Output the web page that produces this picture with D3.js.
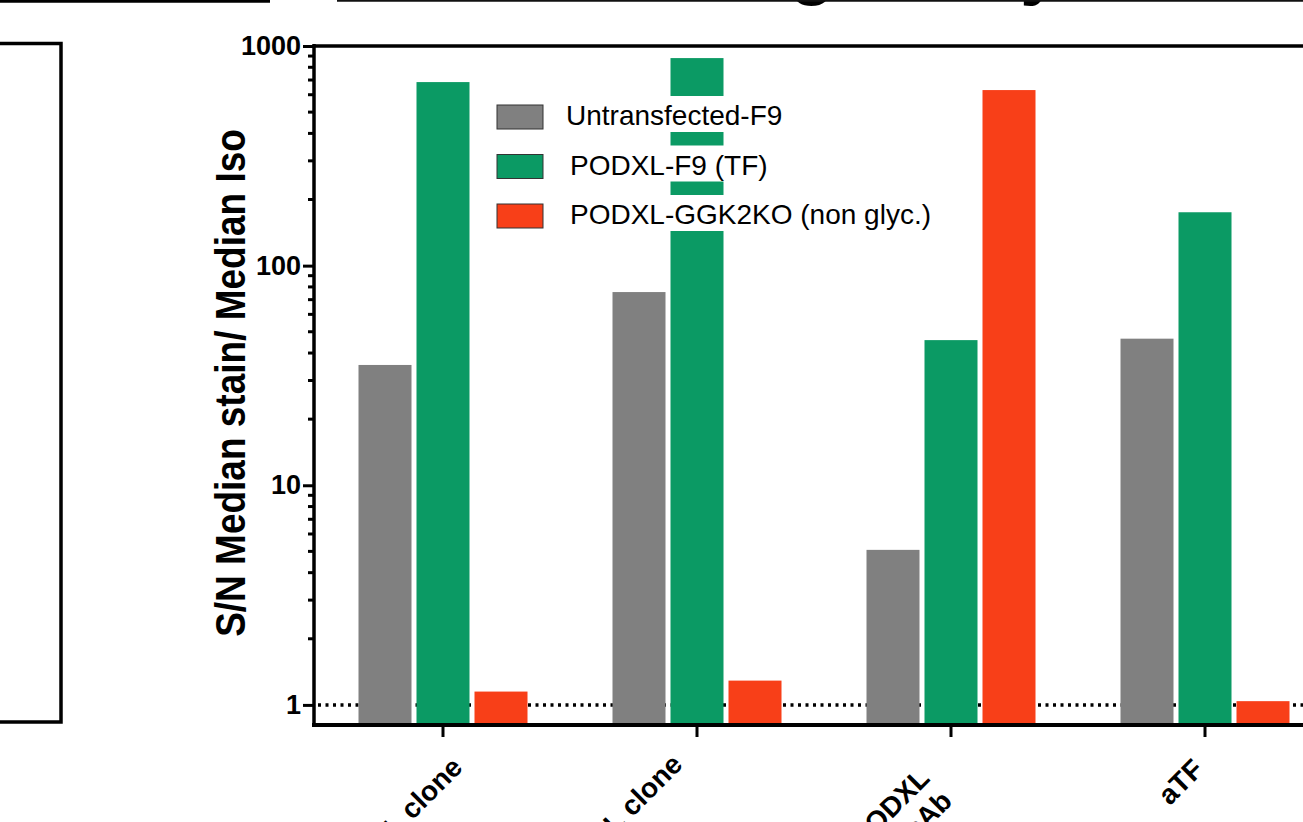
<!DOCTYPE html>
<html><head><meta charset="utf-8">
<script src="https://cdn.jsdelivr.net/npm/d3@7/dist/d3.min.js"></script>
<style>
html,body{margin:0;padding:0;background:#fff;overflow:hidden}
svg{display:block}
text{font-family:"Liberation Sans",Arial,Helvetica,sans-serif}
</style></head>
<body>
<svg id="chart" width="1303" height="822"></svg>
<script>
// ---- data ----
const categories = ["Commercial aPODXL clone", "In-house aPODXL clone", "aPODXL\npAb", "aTF"];
const series = ["Untransfected-F9", "PODXL-F9 (TF)", "PODXL-GGK2KO (non glyc.)"];
const untransfected = [35.3, 75.8, 5.08, 46.5];
const podxlF9 = [685, 881, 45.8, 175];
const podxlKO = [1.15, 1.29, 630, 1.04];
const yTicks = [1, 10, 100, 1000];
const yTitle = "S/N Median stain/ Median Iso";
const titleText = "Staining assay";

// ---- styles / layout ----
const colors = ["#808080", "#0b9a64", "#f83f18"];
const labelDx = [21, -13, -20, 0];
const labelDy = [44, 41, 55, 46];
const legendDx = [0, 4, 4];

const svg = d3.select("#chart");
const values = [untransfected, podxlF9, podxlKO];

const y = d3.scaleLog().domain([0.81, 1000]).range([725, 46]);
const x0 = d3.scaleBand().domain(categories).range([316, 316 + 254 * 4]).padding(0);
const x1 = d3.scaleBand().domain(series).range([42.5, 211.5]).paddingInner(0.0862).paddingOuter(0);

// partial title at top (cut off by the picture's edge, as in the reference)
svg.append("text").attr("x", 543).attr("y", -9)
  .attr("font-size", 74).attr("font-weight", "bold").attr("fill", "#000").text(titleText);
svg.append("line").attr("x1", 0).attr("x2", 270).attr("y1", 1).attr("y2", 1)
  .attr("stroke", "#000").attr("stroke-width", 3.5);
svg.append("line").attr("x1", 337).attr("x2", 1303).attr("y1", 0.5).attr("y2", 0.5)
  .attr("stroke", "#111").attr("stroke-width", 2.5);

// neighbouring panel frame (left, cut off)
svg.append("path").attr("d", "M-5,43.5H61V722H-5").attr("fill", "none")
  .attr("stroke", "#000").attr("stroke-width", 3.5);

// dotted reference line at 1
svg.append("line").attr("x1", 318).attr("x2", 1303)
  .attr("y1", y(1)).attr("y2", y(1))
  .attr("stroke", "#000").attr("stroke-width", 3.5).attr("stroke-dasharray", "3,4.5");

// bars
const groups = svg.append("g").selectAll("g").data(categories).join("g")
  .attr("transform", d => `translate(${x0(d)},0)`);
groups.selectAll("rect").data((c, ci) => series.map((s, si) => ({s, si, v: values[si][ci]})))
  .join("rect")
  .attr("x", d => x1(d.s)).attr("width", x1.bandwidth())
  .attr("y", d => y(d.v)).attr("height", d => y(0.81) - y(d.v))
  .attr("fill", d => colors[d.si]);

// top frame line
svg.append("line").attr("x1", 314).attr("x2", 1303).attr("y1", y(1000)).attr("y2", y(1000))
  .attr("stroke", "#000").attr("stroke-width", 3.5);

// y axis
const yAxisG = svg.append("g").attr("transform", "translate(314,0)");
const minor = [];
[1, 10, 100].forEach(d => { for (let k = 2; k <= 9; k++) minor.push(d * k); });
yAxisG.selectAll(".minor").data(minor).join("line")
  .attr("x1", -6).attr("x2", 0).attr("y1", d => y(d)).attr("y2", d => y(d))
  .attr("stroke", "#000").attr("stroke-width", 3);
const yAxis = d3.axisLeft(y).tickValues(yTicks).tickFormat(d3.format("d")).tickSize(11).tickPadding(2);
yAxisG.call(yAxis);
yAxisG.select(".domain").remove();
yAxisG.selectAll(".tick line").attr("stroke", "#000").attr("stroke-width", 3);
yAxisG.selectAll(".tick text").attr("font-size", 27).attr("font-weight", "bold")
  .attr("fill", "#000").attr("font-family", "Liberation Sans, Arial, sans-serif");
yAxisG.append("line").attr("x1", 0).attr("x2", 0).attr("y1", 44).attr("y2", 727)
  .attr("stroke", "#000").attr("stroke-width", 3.5);

// x axis
const xAxisG = svg.append("g").attr("transform", `translate(0,${y(0.81)})`);
xAxisG.append("line").attr("x1", 312).attr("x2", 1303).attr("y1", 0).attr("y2", 0)
  .attr("stroke", "#000").attr("stroke-width", 4);
xAxisG.selectAll(".xt").data(categories).join("line")
  .attr("x1", d => x0(d) + x0.bandwidth() / 2).attr("x2", d => x0(d) + x0.bandwidth() / 2)
  .attr("y1", 0).attr("y2", 12).attr("stroke", "#000").attr("stroke-width", 3);
xAxisG.selectAll(".xl").data(categories).join("text")
  .attr("transform", (d, i) => `translate(${x0(d) + x0.bandwidth() / 2 + labelDx[i]},${labelDy[i]}) rotate(-45)`)
  .attr("text-anchor", "end").attr("font-size", 28).attr("font-weight", "bold").attr("fill", "#000")
  .each(function (d) {
    const lines = d.split("\n");
    d3.select(this).selectAll("tspan").data(lines).join("tspan")
      .attr("x", 0).attr("dy", (t, j) => j === 0 ? 0 : 32).text(t => t);
  });

// y title
svg.append("text").attr("transform", "translate(245,383) scale(1.15,1) rotate(-90)")
  .attr("text-anchor", "middle").attr("font-size", 37).attr("font-weight", "bold").attr("fill", "#000")
  .text(yTitle);

// legend
const leg = svg.append("g");
const rows = leg.selectAll("g").data(series).join("g")
  .attr("transform", (d, i) => `translate(0,${105 + i * 49.5})`);
rows.append("text").attr("x", (d, i) => 566 + legendDx[i]).attr("y", 20).attr("font-size", 28).attr("fill", "#000")
  .text(d => d);
rows.each(function () {
  const t = d3.select(this).select("text");
  const bb = t.node().getBBox();
  d3.select(this).insert("rect", "text").attr("x", bb.x - 4).attr("y", -9)
    .attr("width", bb.width + 8).attr("height", 36).attr("fill", "#fff");
});
rows.append("rect").attr("x", 497).attr("y", 0).attr("width", 46).attr("height", 24)
  .attr("fill", (d, i) => colors[i]).attr("stroke", "#333").attr("stroke-width", 1);
</script>
</body></html>
